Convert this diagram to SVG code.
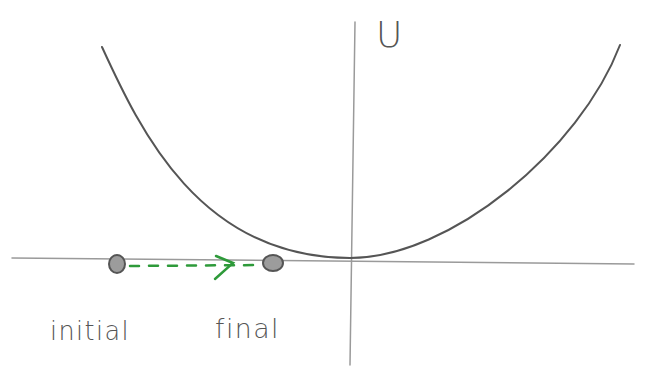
<svg xmlns="http://www.w3.org/2000/svg" width="645" height="369" viewBox="0 0 645 369">
<style>
.ax{stroke:#9a9a9a;stroke-width:1.5;fill:none;stroke-linecap:round}
.curve{stroke:#555;stroke-width:2;fill:none;stroke-linecap:round}
.pt{fill:#9c9c9c;stroke:#555;stroke-width:2}
.lbl{font-family:"DejaVu Sans",sans-serif;font-size:27px;fill:#555;font-weight:300;letter-spacing:1.5px}
.arr{stroke:#2e9a3a;stroke-width:2.5;fill:none;stroke-linecap:round}
</style>
<rect width="645" height="369" fill="#fff"/>
<g id="axes">
<path class="ax" d="M12,258 L634,264"/>
<path class="ax" d="M355,22 L350,365"/>
</g>
<g id="curve">
<path class="curve" d="M102,47 C140,130 200,258 350,258 C450,258 580,150 620,45"/>
</g>
<g id="initial-node">
<ellipse class="pt" cx="117" cy="264" rx="8" ry="9"/>
<text class="lbl" x="50" y="340" textLength="80" lengthAdjust="spacingAndGlyphs">initial</text>
</g>
<g id="final-node">
<ellipse class="pt" cx="273" cy="263" rx="10" ry="8"/>
<text class="lbl" x="215" y="338" textLength="65" lengthAdjust="spacingAndGlyphs">final</text>
</g>
<g id="label-U">
<text class="lbl" x="376" y="47" style="font-size:36px">U</text>
</g>
<g id="connectors">
<path class="arr" d="M130,266 L262,265" stroke-dasharray="9,10"/>
<path class="arr" d="M216,256 L233,263 L215,279"/>
</g>
</svg>
